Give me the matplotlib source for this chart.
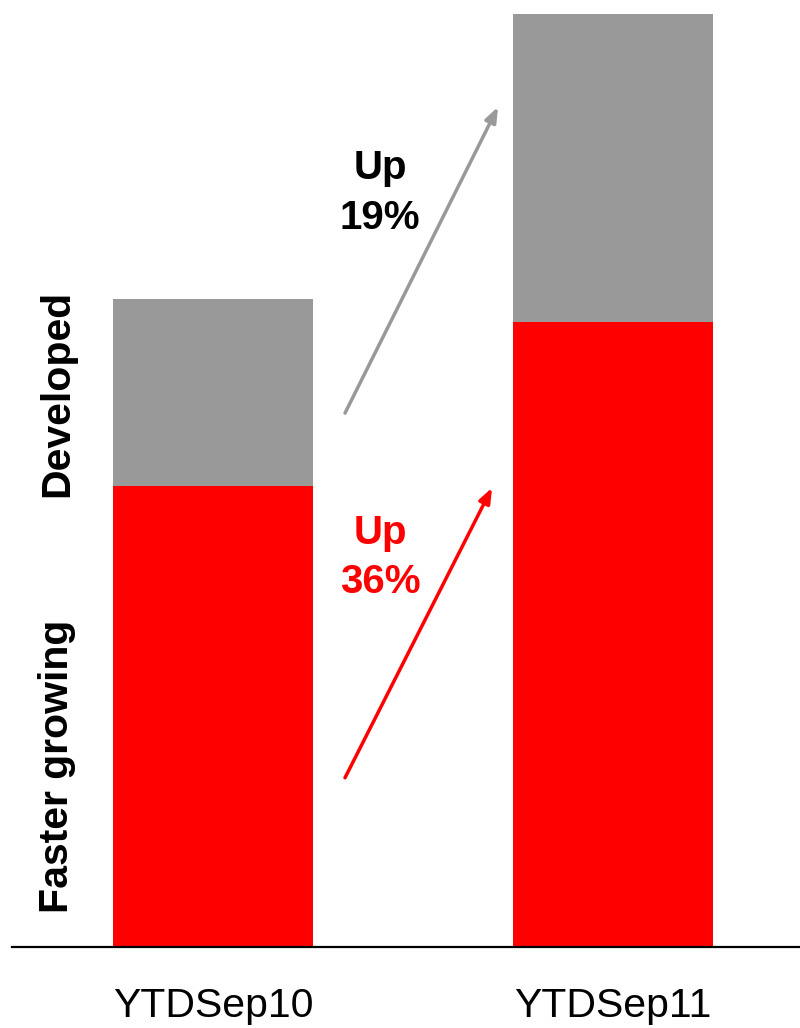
import matplotlib
matplotlib.use("Agg")
import matplotlib.pyplot as plt

plt.rcParams['font.family'] = ['Liberation Sans', 'DejaVu Sans']

periods = ["YTDSep10", "YTDSep11"]
faster_growing = [100.0, 135.6]
developed = [40.6, 66.8]
series_labels = ["Faster growing", "Developed"]
growth_labels = ["Up\n19%", "Up\n36%"]

RED = "#FF0000"
GREY = "#999999"

fig = plt.figure(figsize=(8.0, 10.28), dpi=100)
ax = fig.add_axes([12 / 800, 1 - 947 / 1028, 788 / 800, 947 / 1028])

x = [0, 1]
ax.bar(x, faster_growing, width=0.5, color=RED, zorder=2)
ax.bar(x, developed, width=0.5, bottom=faster_growing, color=GREY, zorder=2)

ax.set_xlim(-0.5025, 1.4675)
ax.set_ylim(0, 205.4)

for s in ["top", "right", "left"]:
    ax.spines[s].set_visible(False)
ax.spines["bottom"].set_linewidth(1.6)
ax.spines["bottom"].set_color("black")
ax.set_yticks([])
ax.set_xticks(x)
ax.set_xticklabels(periods, fontsize=29.5)
ax.tick_params(axis="x", length=0, pad=29)

# growth arrows
ax.annotate("", xy=(0.7125, 182.2), xytext=(0.33, 115.8),
            arrowprops=dict(arrowstyle="-|>,head_length=0.9,head_width=0.35",
                            color=GREY, lw=2.5, shrinkA=0, shrinkB=0))
ax.annotate("", xy=(0.6975, 99.6), xytext=(0.33, 36.7),
            arrowprops=dict(arrowstyle="-|>,head_length=0.9,head_width=0.35",
                            color=RED, lw=2.5, shrinkA=0, shrinkB=0))

ax.text(0.4175, 163.5, growth_labels[0], ha="center", va="center",
        fontsize=29, fontweight="bold", color="black", linespacing=1.38)
ax.text(0.4175, 84.5, growth_labels[1], ha="center", va="center",
        fontsize=29, fontweight="bold", color=RED, linespacing=1.38)

# series labels along the left edge
fig.text(57 / 800, 1 - 766 / 1028, series_labels[0], rotation=90,
         ha="center", va="center", fontsize=29.5, fontweight="bold")
fig.text(57 / 800, 1 - 393 / 1028, series_labels[1], rotation=90,
         ha="center", va="center", fontsize=29.5, fontweight="bold")

fig.savefig("out.png", dpi=100)
